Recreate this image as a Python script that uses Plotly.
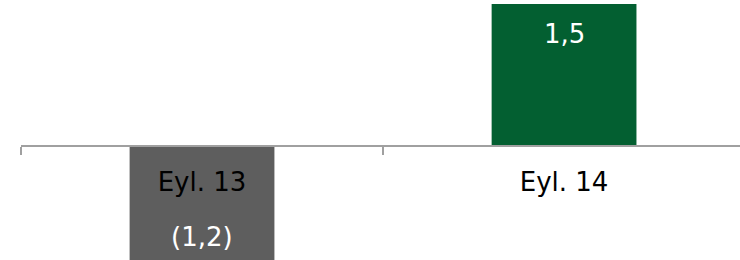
import plotly.graph_objects as go

categories = ["Eyl. 13", "Eyl. 14"]
values = [-1.2, 1.5]
value_labels = ["(1,2)", "1,5"]
bar_colors = ["#5e5e5e", "#035f31"]

y_lo, y_hi = -1.2, 1.542
zero_pos = (0 - y_lo) / (y_hi - y_lo)

fig = go.Figure()
fig.add_trace(go.Bar(
    x=categories, y=values, width=0.4,
    marker=dict(color=bar_colors, line=dict(width=0)),
    hoverinfo="skip",
))

for c, v, t in zip(categories, values, value_labels):
    fig.add_annotation(
        x=c, y=v, text=t, showarrow=False,
        yshift=-30 if v > 0 else 23, yanchor="middle",
        font=dict(family="DejaVu Sans", size=26, color="white"),
    )

fig.update_layout(
    width=740, height=260,
    margin=dict(l=21, r=0, t=0, b=0, autoexpand=False),
    paper_bgcolor="white", plot_bgcolor="white",
    showlegend=False,
    xaxis=dict(
        type="category", range=[-0.5, 1.486],
        anchor="free", position=zero_pos, automargin=False,
        showline=True, linecolor="#a0a0a0", linewidth=1.5,
        ticks="outside", tickson="boundaries", ticklen=8,
        tickcolor="#a0a0a0", tickwidth=1.5,
        showgrid=False, zeroline=False,
        ticklabelstandoff=13,
        tickfont=dict(family="DejaVu Sans", size=26, color="black"),
    ),
    yaxis=dict(
        range=[y_lo, y_hi], visible=False, showgrid=False, zeroline=False,
        automargin=False,
    ),
)

fig.write_html(
    "out.html",
    config={"displayModeBar": False},
    post_script="document.body.style.margin='0';document.body.style.overflow='hidden';",
)
